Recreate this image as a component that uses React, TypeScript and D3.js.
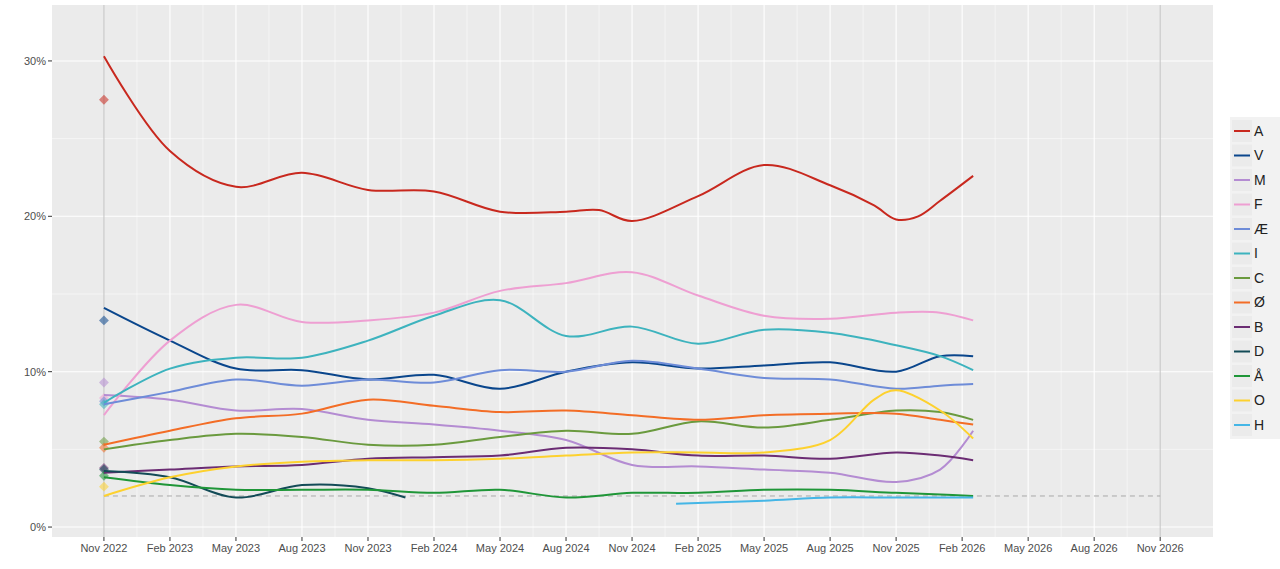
import * as d3 from "d3";

// months since Nov 2022
const monthsA = [0, 3, 6, 9, 12, 15, 18, 21, 22.5, 24, 27, 30, 33, 35, 36, 37, 38, 39.5];
const seriesA = [30.3, 24.2, 21.9, 22.8, 21.7, 21.6, 20.3, 20.3, 20.4, 19.7, 21.3, 23.3, 22.0, 20.7, 19.8, 20.0, 21.0, 22.6];

const grid = [0, 3, 6, 9, 12, 15, 18, 21, 24, 27, 30, 33, 36, 38, 39.5];
const seriesV = [14.1, 12.0, 10.2, 10.1, 9.5, 9.8, 8.9, 10.0, 10.6, 10.2, 10.4, 10.6, 10.0, 11.0, 11.0];
const seriesM = [8.5, 8.2, 7.5, 7.6, 6.9, 6.6, 6.2, 5.6, 4.0, 3.9, 3.7, 3.5, 2.9, 3.7, 6.2];
const seriesF = [7.2, 12.0, 14.3, 13.2, 13.3, 13.8, 15.2, 15.7, 16.4, 14.9, 13.6, 13.4, 13.8, 13.8, 13.3];
const seriesAE = [7.9, 8.7, 9.5, 9.1, 9.5, 9.3, 10.1, 10.0, 10.7, 10.2, 9.6, 9.5, 8.9, 9.1, 9.2];
const seriesI = [8.0, 10.2, 10.9, 10.9, 12.0, 13.6, 14.6, 12.3, 12.9, 11.8, 12.7, 12.5, 11.7, 11.0, 10.1];
const seriesC = [5.0, 5.6, 6.0, 5.8, 5.3, 5.3, 5.8, 6.2, 6.0, 6.8, 6.4, 6.9, 7.5, 7.4, 6.9];
const seriesOE = [5.3, 6.2, 7.0, 7.3, 8.2, 7.8, 7.4, 7.5, 7.2, 6.9, 7.2, 7.3, 7.3, 6.9, 6.6];
const seriesB = [3.5, 3.7, 3.9, 4.0, 4.4, 4.5, 4.6, 5.1, 5.0, 4.6, 4.6, 4.4, 4.8, 4.6, 4.3];
const seriesAA = [3.2, 2.7, 2.4, 2.4, 2.4, 2.2, 2.4, 1.9, 2.2, 2.2, 2.4, 2.4, 2.2, 2.1, 2.0];

const monthsD = [0, 3, 6, 9, 12, 13.7];
const seriesD = [3.6, 3.2, 1.9, 2.7, 2.5, 1.9];

const monthsO = [0, 3, 6, 9, 12, 15, 18, 21, 24, 27, 30, 33, 35, 36, 38, 39.5];
const seriesO = [2.0, 3.2, 3.9, 4.2, 4.3, 4.3, 4.4, 4.6, 4.8, 4.8, 4.8, 5.6, 8.2, 8.8, 7.5, 5.7];

const monthsH = [26, 30, 33, 36, 39.5];
const seriesH = [1.5, 1.7, 1.9, 1.9, 1.9];

// election result Nov 2022
const electionParties = ["A", "V", "M", "F", "Æ", "I", "C", "Ø", "B", "D", "Å", "O"];
const electionValues = [27.5, 13.3, 9.3, 8.3, 8.1, 7.9, 5.5, 5.1, 3.8, 3.7, 3.3, 2.6];

const parties = ["A", "V", "M", "F", "Æ", "I", "C", "Ø", "B", "D", "Å", "O", "H"];
const colors = ["#C8281E", "#0A468C", "#B48CD2", "#EE9FD2", "#6E8CD8", "#3DB3BE", "#6A9A3E", "#F36D26", "#6B2C73", "#134B57", "#1F9638", "#FDD12E", "#45B6E6"];
const partyData: [number[], number[]][] = [
  [monthsA, seriesA], [grid, seriesV], [grid, seriesM], [grid, seriesF], [grid, seriesAE],
  [grid, seriesI], [grid, seriesC], [grid, seriesOE], [grid, seriesB], [monthsD, seriesD],
  [grid, seriesAA], [monthsO, seriesO], [monthsH, seriesH],
];

const xTickLabels = ["Nov 2022", "Feb 2023", "May 2023", "Aug 2023", "Nov 2023", "Feb 2024", "May 2024", "Aug 2024", "Nov 2024", "Feb 2025", "May 2025", "Aug 2025", "Nov 2025", "Feb 2026", "May 2026", "Aug 2026", "Nov 2026"];
const yTicks = [0, 10, 20, 30];

export default function App() {
  const W = 1280, H = 569;
  const L = 52, R = 1213, T = 5, B = 537;
  const x = d3.scaleLinear().domain([-2.36, 50.4]).range([L, R]);
  const y = d3.scaleLinear().domain([-0.64, 33.6]).range([B, T]);
  const line = d3.line<[number, number]>().x((d) => x(d[0])).y((d) => y(d[1])).curve(d3.curveCatmullRom.alpha(0.5));
  const font = "Liberation Sans, Arial, sans-serif";

  return (
    <svg width={W} height={H} style={{ position: "absolute", left: 0, top: 0 }} fontFamily={font}>
      <rect width={W} height={H} fill="#fff" />
      <rect x={L} y={T} width={R - L} height={B - T} fill="#EBEBEB" />
      {[5, 15, 25].map((v) => (
        <line key={"my" + v} x1={L} x2={R} y1={y(v)} y2={y(v)} stroke="#fff" strokeWidth={0.5} />
      ))}
      {xTickLabels.slice(0, -1).map((_, i) => (
        <line key={"mx" + i} x1={x(i * 3 + 1.5)} x2={x(i * 3 + 1.5)} y1={T} y2={B} stroke="#fff" strokeWidth={0.5} />
      ))}
      {yTicks.map((v) => (
        <g key={"y" + v}>
          <line x1={L} x2={R} y1={y(v)} y2={y(v)} stroke="#fff" strokeWidth={1.1} />
          <line x1={L - 4} x2={L} y1={y(v)} y2={y(v)} stroke="#333" />
          <text x={L - 6} y={y(v)} dy="0.35em" textAnchor="end" fontSize={11} fill="#4D4D4D">{v}%</text>
        </g>
      ))}
      {xTickLabels.map((lab, i) => (
        <g key={lab}>
          <line x1={x(i * 3)} x2={x(i * 3)} y1={T} y2={B} stroke={i === 0 || i === 16 ? "#C8C8C8" : "#fff"} strokeWidth={1.1} />
          <line x1={x(i * 3)} x2={x(i * 3)} y1={B} y2={B + 4} stroke="#333" />
          <text x={x(i * 3)} y={B + 15} textAnchor="middle" fontSize={11} fill="#4D4D4D">{lab}</text>
        </g>
      ))}
      <line x1={x(0)} x2={x(48)} y1={y(2)} y2={y(2)} stroke="#A8A8A8" strokeDasharray="5,4" />
      {electionValues.map((v, i) => {
        const c = colors[parties.indexOf(electionParties[i])];
        return <rect key={"e" + i} x={x(0) - 3.5} y={y(v) - 3.5} width={7} height={7} fill={c} opacity={0.55} transform={`rotate(45 ${x(0)} ${y(v)})`} />;
      })}
      {partyData.map(([ms, vs], i) => (
        <path key={parties[i]} d={line(ms.map((m, j) => [m, vs[j]] as [number, number])) || ""} fill="none" stroke={colors[i]} strokeWidth={2} />
      ))}
      <rect x={1230} y={117} width={50} height={322} fill="#F2F2F2" />
      {parties.map((p, i) => (
        <g key={"l" + p} transform={`translate(1232, ${131 + i * 24.5})`}>
          <rect x={0} y={-11} width={20} height={22} fill="#EBEBEB" />
          <line x1={2} x2={18} y1={0} y2={0} stroke={colors[i]} strokeWidth={2} />
          <text x={22} y={0} dy="0.35em" fontSize={14} fill="#222">{p}</text>
        </g>
      ))}
    </svg>
  );
}
